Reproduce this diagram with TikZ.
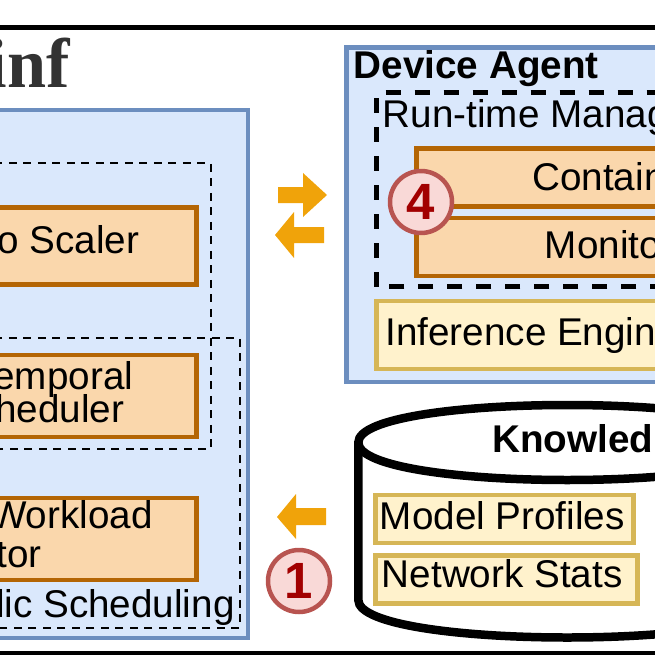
\documentclass[tikz,border=0pt]{standalone}
\usepackage{fontspec}
\setmainfont{Liberation Sans}
\newfontfamily\titlefont{Liberation Serif}
\usepackage{tikz}
\usetikzlibrary{shapes,positioning,calc}
\definecolor{blueFill}{HTML}{DAE8FC}
\definecolor{blueLine}{HTML}{6C8EBF}
\definecolor{orangeFill}{HTML}{FAD7AC}
\definecolor{orangeLine}{HTML}{B46504}
\definecolor{yellowFill}{HTML}{FFF2CC}
\definecolor{yellowLine}{HTML}{D6B656}
\definecolor{badgeFill}{HTML}{F9D9D7}
\definecolor{badgeLine}{HTML}{B85450}
\definecolor{badgeText}{HTML}{A20000}
\definecolor{flowOrange}{HTML}{F0A30A}
\tikzset{
	agentbox/.style={draw=blueLine, fill=blueFill, line width=0.09cm},
	modulebox/.style={draw=orangeLine, fill=orangeFill, line width=0.09cm},
	storebox/.style={draw=yellowLine, fill=yellowFill, line width=0.09cm},
	thindash/.style={draw=black, line width=0.05cm, dash pattern=on 0.16cm off 0.13cm},
	thickdash/.style={draw=black, line width=0.09cm, dash pattern=on 0.3cm off 0.28cm},
	flowarrow/.style={fill=flowOrange},
	label/.style={inner sep=0pt, anchor=base west, font=\fontsize{22}{26}\selectfont},
	labelend/.style={label, anchor=base east},
	boldlabel/.style={label, font=\fontsize{22}{26}\selectfont\bfseries},
	badge/.style={circle, draw=badgeLine, fill=badgeFill, line width=0.09cm, minimum size=1.24cm, inner sep=0pt, text=badgeText, font=\fontsize{29}{30}\selectfont\bfseries},
}
\begin{document}
\begin{tikzpicture}[x=0.02cm, y=-0.02cm]
	\useasboundingbox (0,0) rectangle (655,655);
	\clip (0,0) rectangle (655,655);
	\draw[line width=0.1cm] (-20,28) rectangle (675,653.5);
	\node[labelend, text=black!80, font=\titlefont\fontsize{40}{44}\selectfont\bfseries] (title) at (70,88) {inf};

	% left agent
	\draw[agentbox] (-20,110) rectangle (248,638);
	\draw[thindash] (-20,163) -- (211,163) -- (211,449) -- (-20,449);
	\draw[thindash] (-20,338) -- (240,338) -- (240,628) -- (-20,628);
	\draw[modulebox] (-20,207.5) rectangle (196.5,284.5);
	\draw[modulebox] (-20,355) rectangle (196.5,437);
	\draw[modulebox] (-20,498) rectangle (196.5,580);
	\node[labelend] (scaler) at (139.5,253) {o Scaler};
	\node[labelend] (temporal) at (133.5,389) {emporal};
	\node[labelend] (scheduler) at (124.5,422) {heduler};
	\node[labelend] (workload) at (153,528) {Workload};
	\node[labelend] (estimator) at (42,567) {tor};
	\node[labelend] (dynamic) at (235,617) {lic Scheduling};

	% exchange arrows
	\fill[flowarrow] (278,187) -- (303,187) -- (303,173) -- (327,195) -- (303,217) -- (303,203) -- (278,203) -- cycle;
	\fill[flowarrow] (324,227) -- (294,227) -- (294,212) -- (275,235) -- (294,258) -- (294,243) -- (324,243) -- cycle;
	\fill[flowarrow] (326,508) -- (296,508) -- (296,494) -- (277,517) -- (296,539) -- (296,525) -- (326,525) -- cycle;

	% device agent
	\draw[agentbox] (346.5,47.5) rectangle (675,382);
	\node[boldlabel] (device) at (353.5,79) {Device Agent};
	\draw[thickdash] (376.7,286.7) -- (376.7,92.7) -- (675,92.7) -- (675,286.7) -- cycle;
	\node[label] (runtime) at (382.5,128) {Run-time Manag};
	\draw[modulebox] (416.5,148.3) rectangle (675,206.3);
	\draw[modulebox] (416.5,218) rectangle (675,276);
	\node[label] (container) at (532,191) {Contain};
	\node[label] (monitor) at (544.5,258) {Monito};
	\draw[storebox] (376.7,301) rectangle (675,369);
	\node[label] (inference) at (385,345) {Inference Engin};
	\node[badge] (badgefour) at (421,202) {4};

	% knowledge store
	\draw[line width=0.17cm, fill=white] (358.3,442.5) .. controls (358.3,392.5) and (776.3,392.5) .. (776.3,442.5) -- (776.3,600) .. controls (776.3,650) and (358.3,650) .. (358.3,600) -- cycle;
	\draw[line width=0.17cm] (358.3,442.5) .. controls (358.3,492.5) and (776.3,492.5) .. (776.3,442.5);
	\node[boldlabel] (knowledge) at (492,452) {Knowled};
	\draw[storebox] (375.7,495) rectangle (633.3,543);
	\draw[storebox] (375.7,555.3) rectangle (637.3,603.3);
	\node[label] (profiles) at (379.5,529) {Model Profiles};
	\node[label] (stats) at (381.5,587) {Network Stats};
	\node[badge] (badgeone) at (299,581) {1};
\end{tikzpicture}
\end{document}
